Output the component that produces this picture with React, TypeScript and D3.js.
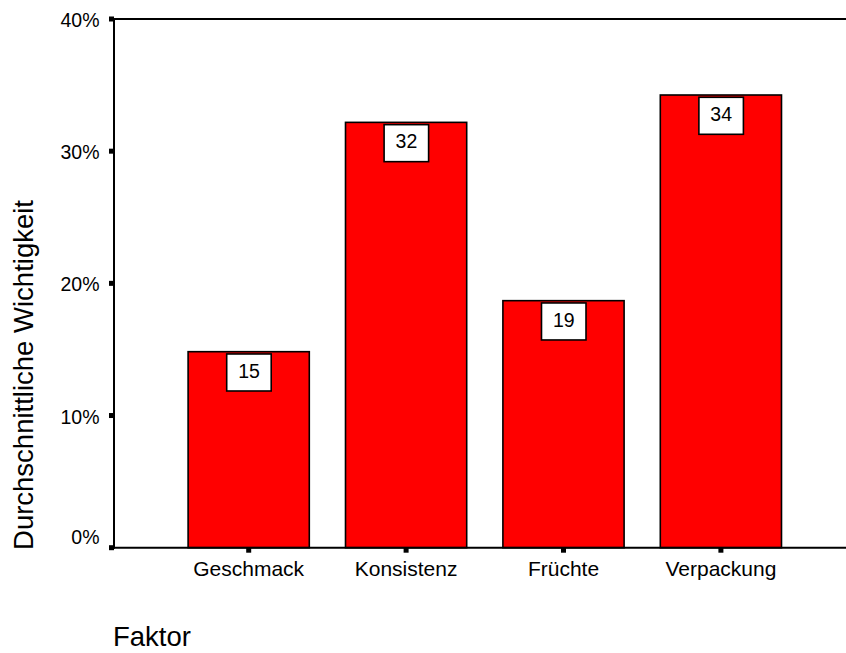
import React from "react";
import * as d3 from "d3";

const categories = ["Geschmack", "Konsistenz", "Früchte", "Verpackung"];
const values = [14.83, 32.18, 18.69, 34.25];
const barLabels = ["15", "32", "19", "34"];
const yTicks = [0, 10, 20, 30, 40];
const yTitle = "Durchschnittliche Wichtigkeit";
const xTitle = "Faktor";

const W = 846;
const H = 653;
const FONT = "'Liberation Sans', Arial, Helvetica, sans-serif";

export default function App() {
  const x0 = 114;
  const yBottom = 547.7;
  const yTop = 19;
  const step = 157.4;
  const xs = d3
    .scaleBand<string>()
    .domain(categories)
    .range([170, 170 + step * categories.length])
    .paddingInner(0.23)
    .paddingOuter(0.115);
  const ys = d3.scaleLinear().domain([0, 40]).range([yBottom, yTop]);
  const bw = xs.bandwidth();

  return (
    <svg
      width={W}
      height={H}
      style={{ position: "absolute", left: 0, top: 0, background: "#fff" }}
      fontFamily={FONT}
    >
      <rect x={0} y={0} width={W} height={H} fill="#fff" />
      {categories.map((c, i) => {
        const bx = xs(c)!;
        const by = ys(values[i]);
        const cx = bx + bw / 2;
        return (
          <g key={c}>
            <rect
              x={bx}
              y={by}
              width={bw}
              height={yBottom - by}
              fill="#ff0000"
              stroke="#000"
              strokeWidth={1.6}
            />
            <rect
              x={cx - 22}
              y={by + 2.3}
              width={44.5}
              height={37}
              fill="#fff"
              stroke="#000"
              strokeWidth={1.6}
            />
            <text
              x={cx + 0.3}
              y={by + 26}
              textAnchor="middle"
              fontSize={19.5}
              fill="#000"
            >
              {barLabels[i]}
            </text>
          </g>
        );
      })}
      <line x1={x0} x2={W} y1={yTop} y2={yTop} stroke="#000" strokeWidth={2} />
      <line x1={x0} x2={W} y1={yBottom} y2={yBottom} stroke="#000" strokeWidth={2} />
      <line x1={x0} x2={x0} y1={yTop} y2={yBottom + 1} stroke="#000" strokeWidth={2} />
      {yTicks.map((t) => {
        const ty = ys(t);
        return (
          <g key={t}>
            <rect x={x0 - 5} y={ty - 2.5} width={5} height={5} fill="#000" />
            <text
              x={99.5}
              y={t === 0 ? ty - 4 : ty + 8}
              textAnchor="end"
              fontSize={19.5}
              fill="#000"
            >
              {t + "%"}
            </text>
          </g>
        );
      })}
      {categories.map((c) => {
        const cx = xs(c)! + bw / 2;
        return (
          <g key={c}>
            <rect x={cx - 2.5} y={yBottom} width={5} height={5} fill="#000" />
            <text x={cx} y={576} textAnchor="middle" fontSize={21} fill="#000">
              {c}
            </text>
          </g>
        );
      })}
      <text
        transform={`translate(32.7, 375) rotate(-90)`}
        textAnchor="middle"
        fontSize={27.5}
        fill="#000"
      >
        {yTitle}
      </text>
      <text x={113} y={646} fontSize={27.5} fill="#000">
        {xTitle}
      </text>
    </svg>
  );
}
